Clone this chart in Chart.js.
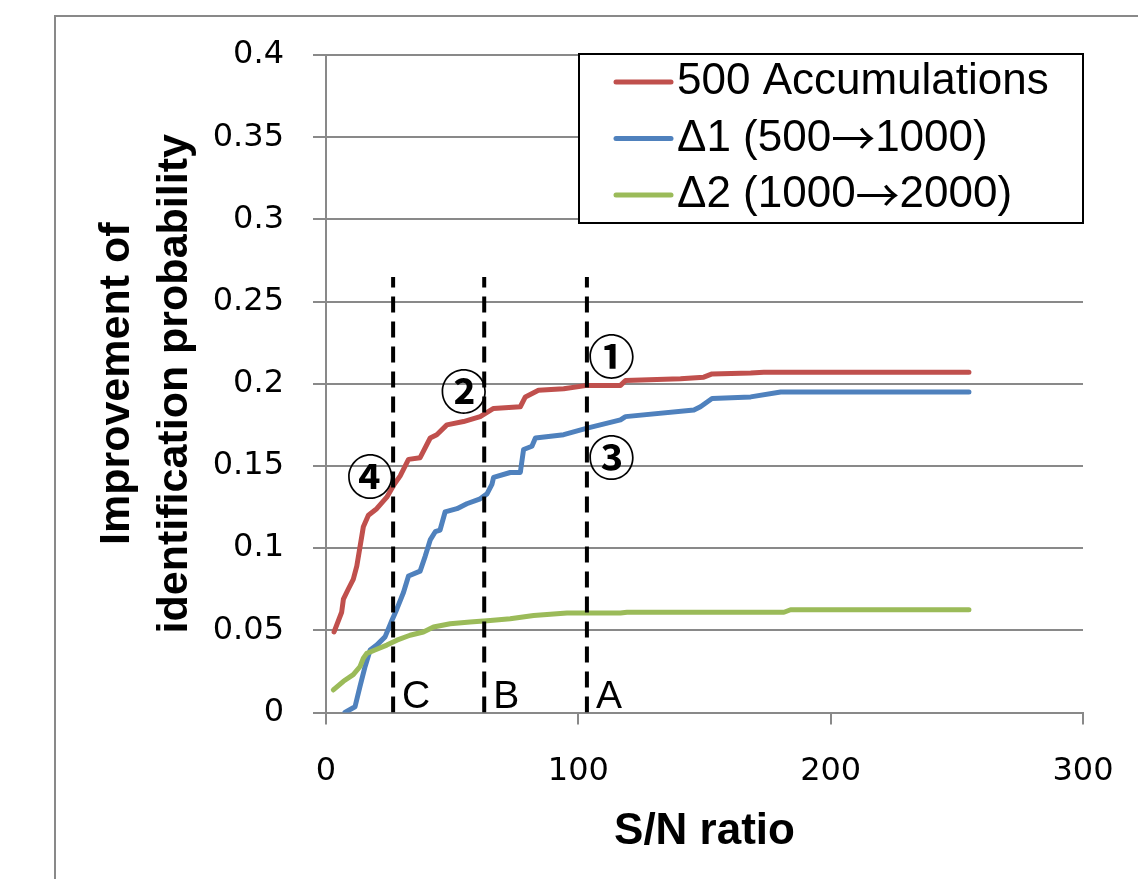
<!DOCTYPE html>
<html><head><meta charset="utf-8">
<script src="https://cdn.jsdelivr.net/npm/chart.js@4/dist/chart.umd.min.js"></script>
<style>html,body{margin:0;padding:0;background:#fff;} canvas{display:block;}</style>
</head><body>
<canvas id="c" width="1138" height="879"></canvas>
<script>
// ---- data ----
const seriesLabels = ['500 Accumulations', 'Δ1 (500→1000)', 'Δ2 (1000→2000)'];
const seriesColors = ['#C0504D', '#4F81BD', '#9BBB59'];

const redX = [3.2, 6.2, 6.9, 8.8, 10.8, 12.2, 13.5, 14.8, 16.8, 20.1, 24.1, 26.7, 29.4, 32.7, 37.3, 41.3, 43.9, 47.9, 54.5, 61.1, 66.4, 77.0, 79.0, 84.2, 94.2, 103.5, 116.7, 118.7, 140.5, 149.7, 153.0, 168.3, 173.5, 254.8];
const redY = [0.049, 0.061, 0.069, 0.075, 0.081, 0.089, 0.101, 0.113, 0.120, 0.124, 0.131, 0.138, 0.144, 0.154, 0.155, 0.167, 0.169, 0.175, 0.177, 0.180, 0.185, 0.186, 0.192, 0.196, 0.197, 0.199, 0.199, 0.202, 0.203, 0.204, 0.206, 0.2066, 0.207, 0.207];

const blueX = [7.5, 11.5, 13.5, 15.5, 17.5, 20.1, 23.4, 26.1, 28.1, 30.7, 32.7, 37.3, 39.3, 41.3, 43.3, 45.2, 47.2, 51.9, 55.8, 61.1, 63.8, 65.8, 66.4, 73.0, 77.0, 78.3, 81.6, 83.0, 94.2, 103.5, 116.7, 118.7, 145.8, 148.4, 153.0, 168.3, 180.2, 254.8];
const blueY = [0.0, 0.0035, 0.016, 0.028, 0.038, 0.041, 0.046, 0.056, 0.063, 0.073, 0.083, 0.086, 0.095, 0.105, 0.110, 0.111, 0.122, 0.124, 0.127, 0.130, 0.133, 0.139, 0.143, 0.146, 0.146, 0.160, 0.162, 0.167, 0.169, 0.173, 0.178, 0.180, 0.184, 0.186, 0.191, 0.192, 0.195, 0.195];

const greenX = [2.9, 6.9, 10.8, 13.5, 14.8, 16.2, 19.4, 24.1, 28.1, 33.3, 38.6, 42.6, 49.2, 57.1, 65.1, 73.0, 82.3, 95.5, 116.7, 119.3, 181.5, 184.1, 254.8];
const greenY = [0.0137, 0.019, 0.023, 0.028, 0.033, 0.036, 0.038, 0.041, 0.044, 0.047, 0.049, 0.052, 0.054, 0.055, 0.056, 0.057, 0.059, 0.0605, 0.0605, 0.061, 0.061, 0.0625, 0.0625];

const markerX = [26.6, 62.7, 103.4];
const markerLabels = ['C', 'B', 'A'];
const markerTop = 0.265;

const noteText = ['①', '②', '③', '④'];
const noteX = [113.1, 54.6, 113.1, 17.5];
const noteY = [0.2165, 0.1952, 0.1556, 0.144];

const xTickValues = [0, 100, 200, 300];
const yTickLabels = ['0', '0.05', '0.1', '0.15', '0.2', '0.25', '0.3', '0.35', '0.4'];
const xTitle = 'S/N ratio';
const yTitle = ['Improvement of', 'identification probability'];

// ---- build ----
const zip = (xs, ys) => xs.map((x, i) => ({x: x, y: ys[i]}));
const seriesData = [zip(redX, redY), zip(blueX, blueY), zip(greenX, greenY)];

const datasets = [];
markerX.forEach((mx, i) => {
  datasets.push({
    label: markerLabels[i], data: [{x: mx, y: 0}, {x: mx, y: markerTop}],
    borderColor: '#000', borderWidth: 4, borderDash: [16, 9], pointRadius: 0,
    order: 0, isMarker: true
  });
});
seriesData.forEach((d, i) => {
  datasets.push({
    label: seriesLabels[i], data: d, borderColor: seriesColors[i], backgroundColor: seriesColors[i],
    borderWidth: 5, pointRadius: 0, tension: 0, borderJoinStyle: 'round', borderCapStyle: 'round',
    order: 3 - i
  });
});

const GRID = '#898989';
const LEG_FONT = '44px "Liberation Sans", Arial, sans-serif';
const ARROW_FONT = '44px "Noto Sans CJK JP", "DejaVu Sans", sans-serif';

function drawLabel(ctx, text, x, y) {
  // draw label, with the arrow glyph in a font that has a full-size arrow
  const parts = text.split('→');
  let cx = x;
  parts.forEach((p, i) => {
    ctx.font = LEG_FONT;
    ctx.fillText(p, cx, y);
    cx += ctx.measureText(p).width;
    if (i < parts.length - 1) {
      ctx.font = ARROW_FONT;
      ctx.fillText('→', cx, y);
      cx += ctx.measureText('→').width;
    }
  });
}

const decor = {
  id: 'decor',
  beforeDraw(chart) {
    const ctx = chart.ctx;
    ctx.save();
    ctx.fillStyle = '#fff';
    ctx.fillRect(0, 0, chart.width, chart.height);
    ctx.strokeStyle = GRID; ctx.lineWidth = 2;
    ctx.beginPath(); ctx.moveTo(55, chart.height); ctx.lineTo(55, 16); ctx.lineTo(chart.width, 16); ctx.stroke();
    ctx.restore();
  },
  afterDatasetsDraw(chart) {
    const ctx = chart.ctx, xs = chart.scales.x, ys = chart.scales.y, ca = chart.chartArea;
    ctx.save();
    // marker letters
    ctx.fillStyle = '#000';
    ctx.font = '39px "Liberation Sans", Arial, sans-serif';
    ctx.textAlign = 'left'; ctx.textBaseline = 'alphabetic';
    chart.data.datasets.forEach(ds => {
      if (!ds.isMarker) return;
      ctx.fillText(ds.label, xs.getPixelForValue(ds.data[0].x) + 9, ys.getPixelForValue(0) - 5);
    });
    // circled notes
    ctx.font = 'bold 47px "Noto Sans CJK JP", "DejaVu Sans", sans-serif';
    ctx.textAlign = 'center'; ctx.textBaseline = 'middle';
    noteText.forEach((t, i) => ctx.fillText(t, xs.getPixelForValue(noteX[i]), ys.getPixelForValue(noteY[i])));
    // legend
    const w = 504, h = 169;
    const L = ca.right - w, T = ca.top - 1;
    ctx.fillStyle = '#fff'; ctx.fillRect(L, T, w, h);
    ctx.strokeStyle = '#000'; ctx.lineWidth = 2; ctx.strokeRect(L, T, w, h);
    const items = chart.data.datasets.filter(ds => !ds.isMarker);
    ctx.textAlign = 'left'; ctx.textBaseline = 'middle';
    items.forEach((ds, i) => {
      const y = T + 28 + i * 56.5;
      ctx.strokeStyle = ds.borderColor; ctx.lineWidth = 5; ctx.lineCap = 'round';
      ctx.beginPath(); ctx.moveTo(L + 37, y); ctx.lineTo(L + 92, y); ctx.stroke();
      ctx.fillStyle = '#000';
      drawLabel(ctx, ds.label, L + 98, y);
    });
    ctx.restore();
  }
};

const TICK_FONT = {family: '"DejaVu Sans", Verdana, sans-serif', size: 32};

new Chart(document.getElementById('c'), {
  type: 'line',
  data: {datasets: datasets},
  options: {
    responsive: false, animation: false, devicePixelRatio: 1,
    layout: {padding: {left: 0, right: 55, top: 55, bottom: 0}},
    plugins: {legend: {display: false}, tooltip: {enabled: false}},
    scales: {
      x: {
        type: 'linear', min: 0, max: 300,
        afterBuildTicks: s => { s.ticks = xTickValues.map(v => ({value: v})); },
        afterFit: s => { s.height = 166.5; s.paddingLeft = 0; s.paddingRight = 0; },
        grid: {drawOnChartArea: false, drawTicks: true, tickLength: 12, color: GRID, lineWidth: 2},
        border: {color: GRID, width: 2},
        ticks: {color: '#000', padding: 28, maxRotation: 0, font: TICK_FONT,
                callback: v => String(v)},
        title: {display: true, text: xTitle, color: '#000', padding: {top: 0, bottom: 21},
                font: {family: '"Liberation Sans", Arial, sans-serif', size: 44, weight: 'bold', lineHeight: 1.2}}
      },
      y: {
        type: 'linear', min: 0, max: 0.4,
        afterBuildTicks: s => { s.ticks = yTickLabels.map(t => ({value: parseFloat(t)})); },
        afterFit: s => { s.width = 326; s.paddingTop = 0; s.paddingBottom = 0; },
        grid: {drawOnChartArea: true, drawTicks: true, tickLength: 13, color: GRID, lineWidth: 2},
        border: {color: GRID, width: 2},
        ticks: {color: '#000', padding: 29, font: TICK_FONT,
                callback: (v, i) => yTickLabels[i]},
        title: {display: true, text: yTitle, color: '#000', padding: {top: 89, bottom: 0},
                font: {family: '"Liberation Sans", Arial, sans-serif', size: 43, weight: 'bold', lineHeight: 1.33}}
      }
    }
  },
  plugins: [decor]
});
</script>
</body></html>
